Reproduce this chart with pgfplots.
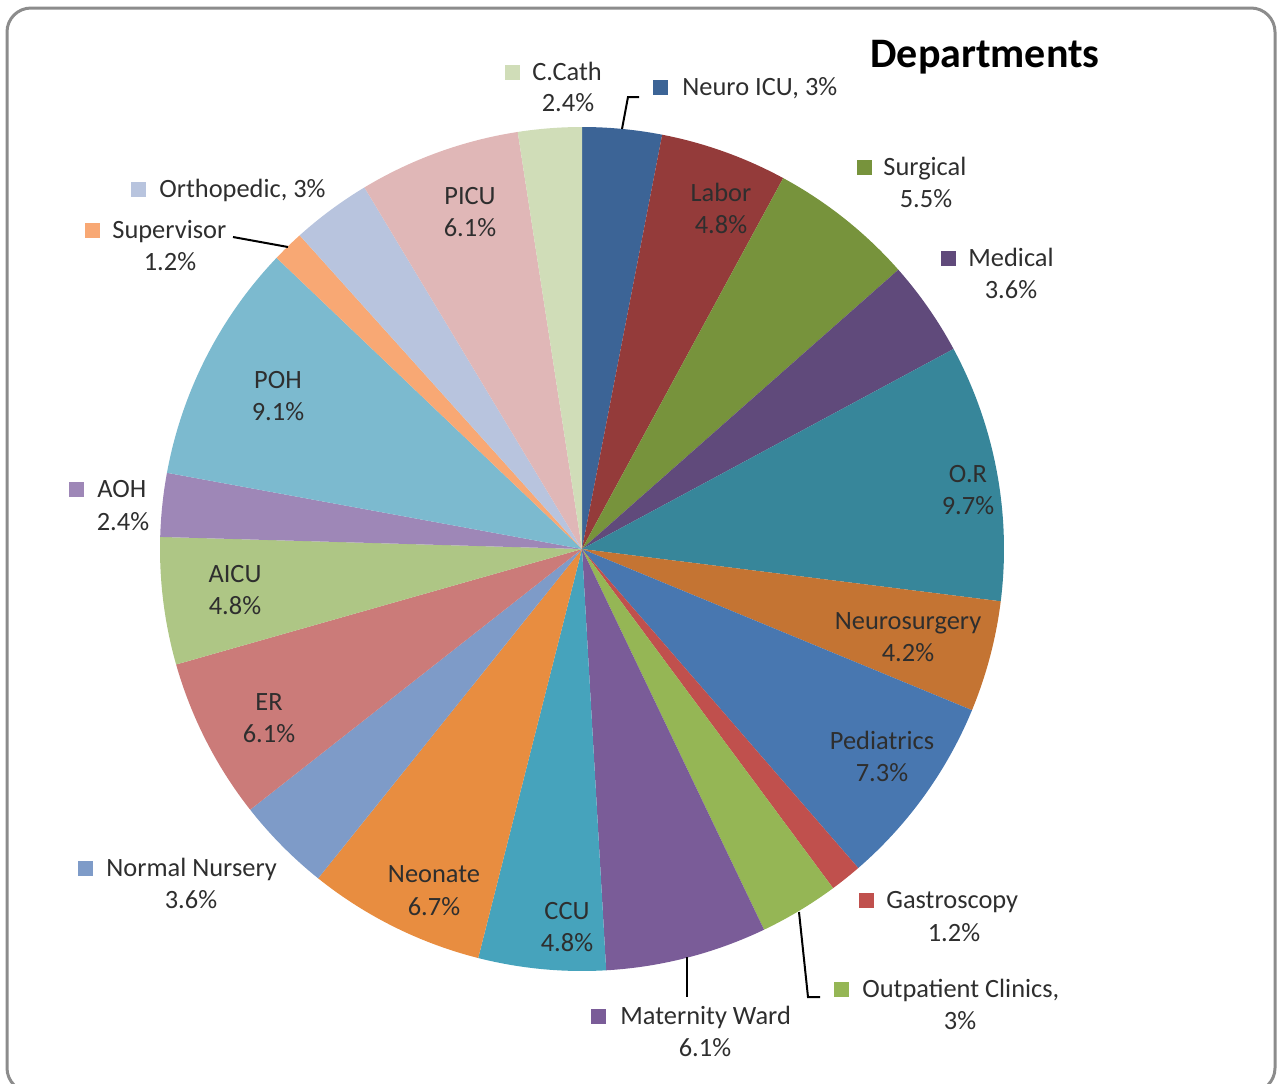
\documentclass[border=0pt]{standalone}
\usepackage{fontspec}
\setmainfont{Carlito}
\usepackage{pgfplots}
\usepackage{pgfplotstable}
\pgfplotsset{compat=1.18}

% slice colours, clockwise from 12 o'clock
\definecolor{pc0}{HTML}{3C6496}
\definecolor{pc1}{HTML}{943B3A}
\definecolor{pc2}{HTML}{77933C}
\definecolor{pc3}{HTML}{604A7B}
\definecolor{pc4}{HTML}{37869A}
\definecolor{pc5}{HTML}{C47433}
\definecolor{pc6}{HTML}{4877B0}
\definecolor{pc7}{HTML}{C0504D}
\definecolor{pc8}{HTML}{95B655}
\definecolor{pc9}{HTML}{7A5C98}
\definecolor{pc10}{HTML}{46A3BC}
\definecolor{pc11}{HTML}{E88D40}
\definecolor{pc12}{HTML}{7E9BC8}
\definecolor{pc13}{HTML}{CB7B79}
\definecolor{pc14}{HTML}{AEC685}
\definecolor{pc15}{HTML}{9E87B7}
\definecolor{pc16}{HTML}{7CBACF}
\definecolor{pc17}{HTML}{F8A874}
\definecolor{pc18}{HTML}{B8C4DE}
\definecolor{pc19}{HTML}{E0B7B7}
\definecolor{pc20}{HTML}{D0DDB8}
\definecolor{txt}{HTML}{2E2E2E}
\definecolor{frame}{HTML}{8C8C8C}

\pgfplotstableread[col sep=comma]{
name,value
Neuro ICU,3
Labor,4.8
Surgical,5.5
Medical,3.6
O.R,9.7
Neurosurgery,4.2
Pediatrics,7.3
Gastroscopy,1.2
Outpatient Clinics,3
Maternity Ward,6.1
CCU,4.8
Neonate,6.7
Normal Nursery,3.6
ER,6.1
AICU,4.8
AOH,2.4
POH,9.1
Supervisor,1.2
Orthopedic,3
PICU,6.1
C.Cath,2.4
}\depts

% slice angles from the table (done in the preamble, so no stray spaces)
\def\total{0}
\pgfplotsforeachungrouped \i in {0,...,20}{%
  \pgfplotstablegetelem{\i}{value}\of\depts
  \pgfmathsetmacro\total{\total+\pgfplotsretval}%
}
\def\cur{90}
\pgfplotsforeachungrouped \i in {0,...,20}{%
  \pgfplotstablegetelem{\i}{value}\of\depts
  \pgfmathsetmacro\nxt{\cur-360*\pgfplotsretval/\total}%
  \expandafter\xdef\csname sa\i\endcsname{\cur}%
  \expandafter\xdef\csname ea\i\endcsname{\nxt}%
  \global\let\cur\nxt
}

\begin{document}
\begin{tikzpicture}[
    lbl/.style={font=\fontsize{13.2}{15}\selectfont, text=txt, inner sep=0pt,
                text height=8.3pt, text depth=0pt},
    key/.style={fill=#1, minimum size=7.5pt, inner sep=0pt},
    lead/.style={black, line width=1pt}]
\begin{axis}[
    name=ax,
    x=0.5pt, y=0.5pt,
    xmin=0, xmax=1281, ymin=0, ymax=1083,
    y dir=reverse,
    enlargelimits=false,
    hide axis,
    clip=false]

% slices
\pgfplotsinvokeforeach{0,...,20}{%
  \fill[pc#1] (axis cs:582,549) -- ++(\csname sa#1\endcsname:211pt)
    arc[start angle=\csname sa#1\endcsname, end angle=\csname ea#1\endcsname, radius=211pt] -- cycle;
}

% frame and title
\draw[frame, line width=1.5pt, rounded corners=12pt] (axis cs:7,8) rectangle (axis cs:1275,1092);
\node[font=\fontsize{21}{24}\selectfont\bfseries, inner sep=0pt] at (axis cs:985,57) {Departments};

% leader lines
\draw[lead] (axis cs:622,129) -- (axis cs:628,97) -- (axis cs:639,97);
\draw[lead] (axis cs:233,237) -- (axis cs:288,247);
\draw[lead] (axis cs:687,957) -- (axis cs:687,997);
\draw[lead] (axis cs:799,912) -- (axis cs:808,997) -- (axis cs:820,997);

% outside labels
\node[key=pc20] at (axis cs:512,72) {};
\node[lbl, anchor=west] at (axis cs:532,72) {C.Cath};
\node[lbl] at (axis cs:568,103) {2.4\%};
\node[key=pc0] at (axis cs:660,87) {};
\node[lbl, anchor=west] at (axis cs:682,87) {Neuro ICU, 3\%};
\node[key=pc2] at (axis cs:864,167) {};
\node[lbl, anchor=west] at (axis cs:883,167) {Surgical};
\node[lbl] at (axis cs:926,199) {5.5\%};
\node[key=pc3] at (axis cs:948,258) {};
\node[lbl, anchor=west] at (axis cs:968,258) {Medical};
\node[lbl] at (axis cs:1011,290) {3.6\%};
\node[key=pc7] at (axis cs:866,900) {};
\node[lbl, anchor=west] at (axis cs:886,900) {Gastroscopy};
\node[lbl] at (axis cs:954,933) {1.2\%};
\node[key=pc8] at (axis cs:841,989) {};
\node[lbl, anchor=west] at (axis cs:862,989) {Outpatient Clinics,};
\node[lbl] at (axis cs:960,1021) {3\%};
\node[key=pc9] at (axis cs:598,1016) {};
\node[lbl, anchor=west] at (axis cs:620,1016) {Maternity Ward};
\node[lbl] at (axis cs:705,1048) {6.1\%};
\node[key=pc12] at (axis cs:85,868) {};
\node[lbl, anchor=west] at (axis cs:106,868) {Normal Nursery};
\node[lbl] at (axis cs:191,900) {3.6\%};
\node[key=pc15] at (axis cs:76,489) {};
\node[lbl, anchor=west] at (axis cs:97,489) {AOH};
\node[lbl] at (axis cs:123,522) {2.4\%};
\node[key=pc17] at (axis cs:92,230) {};
\node[lbl, anchor=west] at (axis cs:112,230) {Supervisor};
\node[lbl] at (axis cs:170,262) {1.2\%};
\node[key=pc18] at (axis cs:138,189) {};
\node[lbl, anchor=west] at (axis cs:159,189) {Orthopedic, 3\%};

% inside labels
\node[lbl] at (axis cs:721,193) {Labor};
\node[lbl] at (axis cs:721,225) {4.8\%};
\node[lbl] at (axis cs:968,474) {O.R};
\node[lbl] at (axis cs:968,506) {9.7\%};
\node[lbl] at (axis cs:908,621) {Neurosurgery};
\node[lbl] at (axis cs:908,653) {4.2\%};
\node[lbl] at (axis cs:882,741) {Pediatrics};
\node[lbl] at (axis cs:882,773) {7.3\%};
\node[lbl] at (axis cs:567,911) {CCU};
\node[lbl] at (axis cs:567,943) {4.8\%};
\node[lbl] at (axis cs:434,874) {Neonate};
\node[lbl] at (axis cs:434,907) {6.7\%};
\node[lbl] at (axis cs:269,702) {ER};
\node[lbl] at (axis cs:269,734) {6.1\%};
\node[lbl] at (axis cs:235,574) {AICU};
\node[lbl] at (axis cs:235,606) {4.8\%};
\node[lbl] at (axis cs:278,380) {POH};
\node[lbl] at (axis cs:278,412) {9.1\%};
\node[lbl] at (axis cs:470,196) {PICU};
\node[lbl] at (axis cs:470,228) {6.1\%};
\end{axis}
\pgfresetboundingbox
\path[use as bounding box] (ax.south west) rectangle (ax.north east);
\end{tikzpicture}
\end{document}
